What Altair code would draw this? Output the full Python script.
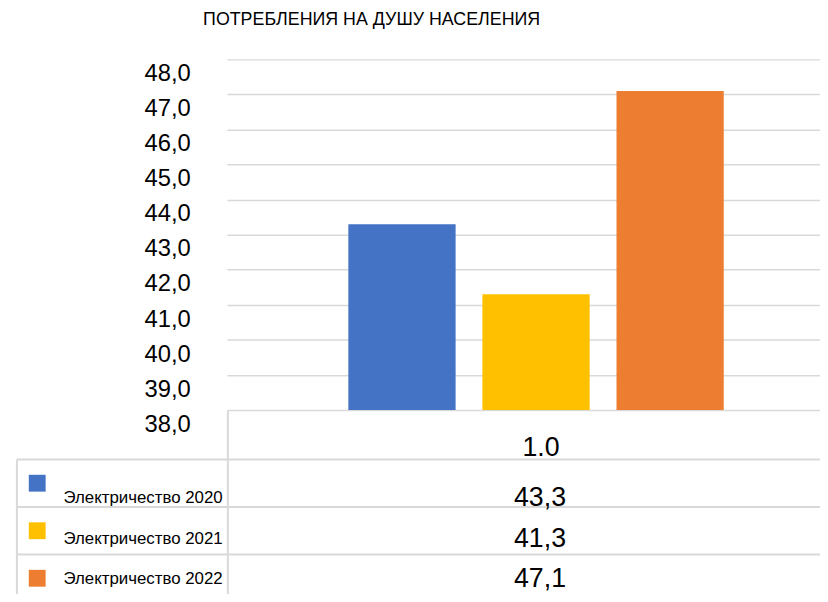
import altair as alt
import pandas as pd

# ---- data ----
series = ["Электричество 2020", "Электричество 2021", "Электричество 2022"]
values = [43.3, 41.3, 47.1]
category = "1.0"
colors = ["#4472C4", "#FFC000", "#ED7D31"]
y_ticks = [38, 39, 40, 41, 42, 43, 44, 45, 46, 47, 48]
title_text = "ПОТРЕБЛЕНИЯ НА ДУШУ НАСЕЛЕНИЯ"

df = pd.DataFrame({"category": [category] * len(series), "series": series, "value": values})
dummy = pd.DataFrame({"d": [0]})

FONT = "Liberation Sans"
GRID = "#D9D9D9"

xscale = alt.Scale(domain=[category], paddingOuter=0.29, paddingInner=0, align=0.558)
x_enc = alt.X(
    "category:N",
    scale=xscale,
    axis=alt.Axis(
        title=None, labelAngle=0, labelFontSize=27, labelFont=FONT, labelColor="#000",
        ticks=False, tickSize=0, domain=False, grid=False, labelPadding=38,
        labelBaseline="middle", labelOffset=5,
    ),
)
color_enc = alt.Color("series:N", scale=alt.Scale(domain=series, range=colors), legend=None)

# table rows (band for lines / swatches, point for the text rows)
rowscale = alt.Scale(type="band", domain=series, range=[404, 548], paddingInner=0, paddingOuter=0)
textrows = alt.Scale(type="point", domain=series, range=[443, 525], padding=0)

bars = alt.Chart(df).mark_bar().encode(
    x=x_enc,
    xOffset=alt.XOffset("series:N", scale=alt.Scale(domain=series, paddingInner=0.2, paddingOuter=0)),
    y=alt.Y(
        "value:Q",
        scale=alt.Scale(domain=[38, 48], zero=False, nice=False),
        axis=alt.Axis(
            values=y_ticks, title=None, domain=False, ticks=False, tickSize=0,
            labelPadding=37, labelFontSize=24, labelFont=FONT, labelColor="#000",
            labelOffset=14.5,
            labelExpr="replace(format(datum.value, '.1f'), '.', ',')",
            gridColor=GRID, gridWidth=1.5,
        ),
    ),
    y2=alt.datum(38),
    color=color_enc,
)

# table lines
h_rules = alt.Chart(df).mark_rule(color=GRID, strokeWidth=2).encode(
    y=alt.Y("series:N", scale=rowscale, axis=None, bandPosition=0),
    x=alt.value(-212), x2=alt.value(599),
)
v_rule_mid = alt.Chart(dummy).mark_rule(color=GRID, strokeWidth=2).encode(
    x=alt.value(1), y=alt.value(355), y2=alt.value(600)
)
v_rule_left = alt.Chart(dummy).mark_rule(color=GRID, strokeWidth=2).encode(
    x=alt.value(-212), y=alt.value(404), y2=alt.value(600)
)

squares = alt.Chart(df).mark_square(size=289, filled=True, opacity=1).encode(
    x=alt.value(-191.5),
    y=alt.Y("series:N", scale=rowscale, axis=None, bandPosition=0.5),
    color=color_enc,
)

legend_text = alt.Chart(df).mark_text(
    align="left", baseline="middle", fontSize=17, font=FONT, color="#000"
).encode(
    x=alt.value(-165),
    y=alt.Y("series:N", scale=textrows, axis=None),
    text="series:N",
)

value_text = alt.Chart(df).transform_calculate(
    label="replace(format(datum.value, '.1f'), '.', ',')"
).mark_text(align="center", baseline="middle", fontSize=27, font=FONT, color="#000", dx=4).encode(
    x=x_enc,
    y=alt.Y("series:N", scale=textrows, axis=None),
    text="label:N",
)

chart = alt.layer(
    bars, h_rules, v_rule_mid, v_rule_left, squares, legend_text, value_text
).resolve_scale(y="independent").properties(
    width=599,
    height=354,
    autosize=alt.AutoSizeParams(type="none"),
    padding={"left": 221, "top": 49, "right": 0, "bottom": 183},
    title=alt.TitleParams(
        text=title_text, anchor="start", frame="group", dx=-24, offset=17,
        baseline="alphabetic", fontSize=18, fontWeight="normal", color="#000", font=FONT,
    ),
).configure(font=FONT).configure_view(strokeWidth=0)

chart.save("out.html", embed_options={"renderer": "svg", "actions": False})
